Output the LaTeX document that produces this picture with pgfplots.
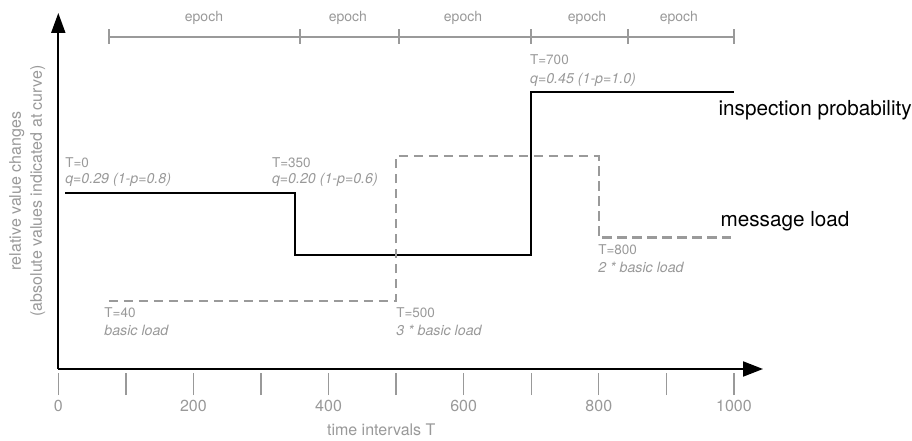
\documentclass[border=0pt]{standalone}
\usepackage{fontspec}
\setmainfont{TeX Gyre Heros}
\usepackage{pgfplots}
\pgfplotsset{compat=1.18}
\usetikzlibrary{arrows.meta}
\definecolor{lbl}{HTML}{999999}
\definecolor{loadgray}{HTML}{9A9A9A}

\begin{document}
\begin{tikzpicture}
\begin{axis}[
  scale only axis, width=704.7pt, height=356pt,
  xmin=0, xmax=1043, ymin=0, ymax=356,
  axis x line=bottom, axis y line=left,
  axis line style={black, line width=2pt},
  x axis line style={-{Triangle[length=20pt,width=15pt]}},
  y axis line style={-{Triangle[length=20pt,width=14pt]}},
  xtick={0,100,...,1000},
  xticklabels={0,,200,,400,,600,,800,,1000},
  ytick=\empty,
  tick align=outside,
  major tick length=22pt,
  xtick style={lbl, line width=1.3pt, yshift=-4pt},
  tick label style={font=\fontsize{16}{19}\selectfont, text=lbl},
  xticklabel style={yshift=-6pt},
  /pgf/number format/assume math mode=true,
  xlabel={time intervals T},
  xlabel style={at={(axis cs:478,0)}, anchor=center, yshift=-61pt,
    font=\fontsize{16}{19}\selectfont, text=lbl},
  ylabel={relative value changes\\(absolute values indicated at curve)},
  ylabel style={at={(axis cs:-46,178)}, anchor=center, align=center,
    font=\fontsize{16}{21}\selectfont, text=lbl},
  clip=false,
]
% epoch bar
\addplot[loadgray, line width=2pt, mark=|, mark size=7.5pt,
  mark options={line width=2pt}] coordinates
  {(75,332) (358,332) (504,332) (700,332) (843,332) (1000,332)};
% inspection probability
\addplot[black, line width=2pt, const plot] coordinates
  {(10,176) (350,114) (700,277) (1000,277)};
% message load
\addplot[loadgray, line width=2.3pt, dash pattern=on 9.5pt off 5.5pt,
  const plot] coordinates
  {(75,68) (500,213) (800,131.5) (995,131.5)};

\coordinate (O) at (axis cs:0,0);

\tikzset{ep/.style={text=lbl, font=\fontsize{14}{16}\selectfont}}
\node[ep] at (axis cs:215.6,351) {epoch};
\node[ep] at (axis cs:428.7,351) {epoch};
\node[ep] at (axis cs:599,351) {epoch};
\node[ep] at (axis cs:782.5,351) {epoch};
\node[ep] at (axis cs:918.6,351) {epoch};

\node[black, anchor=base west, font=\fontsize{20.7}{24}\selectfont]
  at (axis cs:972,253) {inspection probability};
\node[black, anchor=base west, font=\fontsize{20.7}{24}\selectfont]
  at (axis cs:975,142) {message load};

\tikzset{ann/.style={anchor=west, text=lbl, inner sep=0pt,
  font=\fontsize{13.5}{16}\selectfont},
  anni/.style={ann, font=\fontsize{14.2}{17}\selectfont\itshape}}
\node[ann] at (axis cs:10,206) {T=0};
\node[anni] at (axis cs:10,189) {q=0.29 (1-p=0.8)};
\node[ann] at (axis cs:316,206) {T=350};
\node[anni] at (axis cs:316,189) {q=0.20 (1-p=0.6)};
\node[ann] at (axis cs:698,309) {T=700};
\node[anni] at (axis cs:698,289) {q=0.45 (1-p=1.0)};
\node[ann] at (axis cs:68,56) {T=40};
\node[anni] at (axis cs:68,39) {basic load};
\node[ann] at (axis cs:500,56) {T=500};
\node[anni] at (axis cs:500,39) {3 * basic load};
\node[ann] at (axis cs:799,119) {T=800};
\node[anni] at (axis cs:799,102) {2 * basic load};
\end{axis}
\pgfresetboundingbox
\path (O) ++(-58.3pt,-72pt) rectangle ++(912pt,441pt);
\end{tikzpicture}
\end{document}
